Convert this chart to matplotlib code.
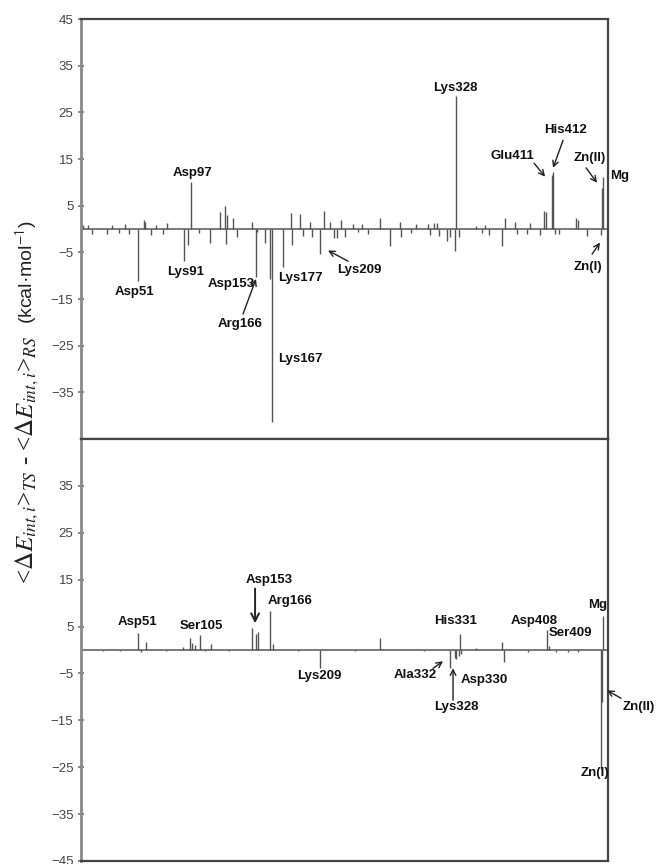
import numpy as np
import matplotlib
matplotlib.use("Agg")
import matplotlib.pyplot as plt

plt.rcParams['font.family'] = ['Liberation Sans', 'DejaVu Sans']
plt.rcParams['mathtext.fontset'] = 'stix'

# x positions: residue number; metal ions placed after the last residue
ZN1, ZN2, MG = 454, 455, 456

# Upper panel: residue, energy difference (kcal/mol)
top_res = [3, 7, 11, 24, 28, 34, 39, 43, 51, 56, 57, 62, 66, 72, 76, 91, 94, 97,
           104, 113, 122, 126, 127, 128, 133, 137, 150, 153, 154, 161, 166, 167,
           177, 184, 185, 192, 194, 200, 202, 209, 213, 218, 221, 224, 227,
           231, 238, 242, 246, 251, 261, 270, 279, 280, 288, 293, 303, 305,
           308, 311, 313, 320, 322, 327, 328, 330, 345, 350, 353, 356, 368,
           370, 379, 381, 389, 392, 401, 404, 406, 411, 412, 414, 417, 432,
           434, 442, ZN1, ZN2, MG]
top_val = [0.9, 0.9, -1.1, -1.1, 0.9, -0.9, 1.0, -1.0, -11.1, 1.9, 1.6, -1.3,
           0.9, -1.1, 1.2, -6.8, -3.4, 10.0, -0.9, -3.0, 3.7, 5.0, -3.2, 3.0,
           2.4, -1.8, 1.5, -10.3, -0.7, -3.0, -10.8, -41.4, -8.2, 3.5, -3.5,
           3.3, -1.6, 1.4, -1.8, -5.3, 3.8, 1.6, -1.9, -1.9, 2.0, -1.8, 1.0,
           -0.6, 1.0, -1.1, 2.4, -3.7, 1.6, -1.8, -0.8, 1.0, 1.0, -1.2, 1.2,
           1.2, -1.4, -2.5, -1.8, -4.7, 28.4, -1.8, 0.7, -0.9, 0.9, -1.2,
           -3.7, 2.3, 1.6, -1.1, -1.1, 1.2, -1.2, 3.9, 3.6, 11.5, 12.3, -1.0,
           -1.1, 2.4, 2.0, -1.6, -1.2, 8.8, 11.2]

# Lower panel
bot_res = [20, 35, 51, 53, 58, 75, 90, 96, 98, 100, 105, 109, 114, 130, 150,
           153, 155, 166, 168, 190, 209, 240, 261, 300, 322, 327, 328, 330,
           331, 332, 345, 368, 369, 390, 407, 409, 415, 425, 434, ZN1, ZN2, MG]
bot_val = [-0.3, -0.3, 3.7, -0.4, 1.8, -0.3, 0.7, 2.5, 1.5, 1.0, 3.2, -0.3,
           1.3, -0.3, 4.6, 3.5, 3.9, 8.4, 1.2, -0.3, -3.9, -0.3, 2.5, -0.3,
           -3.9, -1.8, -1.9, -1.2, 3.5, -0.8, 0.4, 1.8, -2.6, -0.4, 4.2, 0.8,
           -0.5, -0.5, -0.5, -25.3, -11.0, 7.2]

# labels: (text, x, y) text centres in data units
top_labels = [("Asp97", 97.7, 12.0), ("Lys328", 326.8, 30.3), ("Glu411", 376.4, 15.6),
              ("His412", 422.6, 21.2), ("Zn(II)", 444.3, 15.2), ("Mg", 470.0, 11.4),
              ("Zn(I)", 442.6, -8.1), ("Lys209", 243.6, -8.8), ("Asp51", 48.0, -13.5),
              ("Lys91", 92.0, -9.3), ("Asp153", 131.7, -11.8), ("Arg166", 139.9, -20.4),
              ("Lys177", 192.2, -10.4), ("Lys167", 192.2, -27.8)]
# arrows: (tail x, tail y, tip x, tip y)
top_arrows = [(395.6, 14.1, 405.2, 11.2), (420.8, 19.0, 412.1, 13.1),
              (440.9, 13.1, 450.4, 9.9), (446.1, -5.4, 453.0, -2.9),
              (233.6, -6.9, 216.1, -4.6), (142.1, -18.2, 153.4, -10.7)]

bot_labels = [("Asp51", 49.8, 6.0), ("Ser105", 105.5, 5.1), ("Asp153", 164.7, 15.0),
              ("Arg166", 183.0, 10.4), ("Lys209", 208.7, -5.5), ("His331", 326.8, 6.2),
              ("Asp408", 395.6, 6.2), ("Ser409", 427.4, 3.7), ("Mg", 450.9, 9.7),
              ("Ala332", 291.9, -5.4), ("Asp330", 352.0, -6.4), ("Lys328", 327.6, -12.1),
              ("Zn(II)", 486.6, -12.2), ("Zn(I)", 448.3, -26.3)]
bot_arrows = [(307.6, -3.9, 316.3, -2.4), (325.0, -10.7, 325.0, -3.9),
              (471.3, -10.3, 459.1, -8.6)]

fig = plt.figure(figsize=(6.56, 8.64), dpi=100)
ax1 = fig.add_axes([0.1235, 0.4919, 0.8034, 0.4861])
ax2 = fig.add_axes([0.1235, 0.0035, 0.8034, 0.4884])

for ax, res, val, ticks in [(ax1, top_res, top_val, range(-35, 46, 10)),
                            (ax2, bot_res, bot_val, range(-45, 36, 10))]:
    ax.vlines(res, 0, val, color='#555555', lw=1.0)
    ax.axhline(0, color='#6e6e6e', lw=1.3, zorder=1)
    ax.set_xlim(1, 460)
    ax.set_ylim(-45, 45)
    ax.set_xticks([])
    ax.set_yticks(list(ticks))
    ax.tick_params(axis='y', direction='inout', length=5, width=1.2,
                   colors='#777777', labelcolor='#444444', labelsize=9.5, pad=3)
    for side in ['top', 'right', 'bottom']:
        ax.spines[side].set_color('#444444')
        ax.spines[side].set_linewidth(1.6)
    ax.spines['left'].set_color('#888888')
    ax.spines['left'].set_linewidth(2.0)

for ax, labels, arrows in [(ax1, top_labels, top_arrows), (ax2, bot_labels, bot_arrows)]:
    for txt, x, y in labels:
        ax.text(x, y, txt, ha='center', va='center', fontsize=9.5,
                fontweight='bold', color='#111111', clip_on=False)
    for x0, y0, x1, y1 in arrows:
        ax.annotate('', xy=(x1, y1), xytext=(x0, y0), annotation_clip=False,
                    arrowprops=dict(arrowstyle='->', lw=1.0, color='#222222',
                                    shrinkA=0, shrinkB=0))

# thicker down arrow onto Asp153 in the lower panel
ax2.annotate('', xy=(152.6, 5.7), xytext=(152.6, 13.1),
             arrowprops=dict(arrowstyle='->', lw=1.4, color='#222222',
                             mutation_scale=14, shrinkA=0, shrinkB=0))

fig.text(0.041, 0.468,
         r'<$\Delta E_{int,i}$>$_{TS}$ - <$\Delta E_{int,i}$>$_{RS}$',
         rotation=90, ha='center', va='center', fontsize=18,
         family='Liberation Serif', color='#222222')
fig.text(0.041, 0.685, r'(kcal·mol$^{\mathsf{-1}}$)', rotation=90,
         ha='center', va='center', fontsize=14, color='#222222')

fig.savefig('out.png', dpi=100)
